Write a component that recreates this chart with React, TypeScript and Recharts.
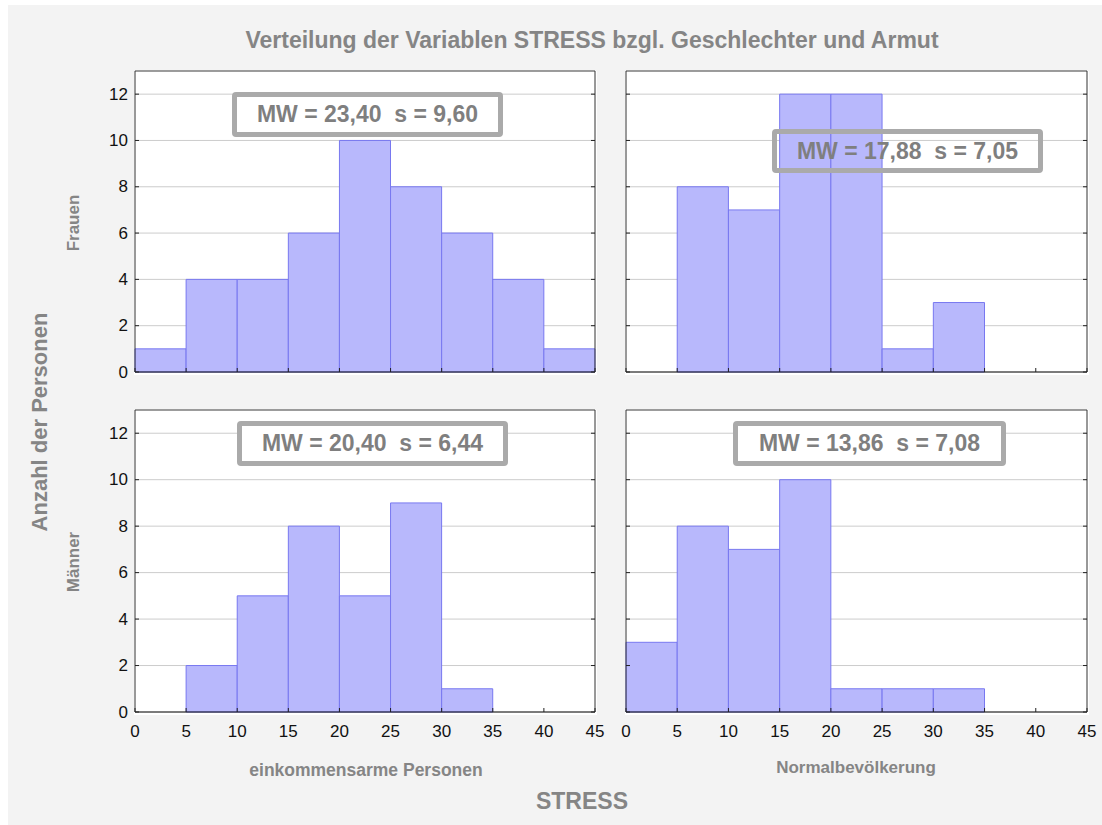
import { BarChart, Bar, XAxis, YAxis, CartesianGrid, ReferenceLine } from "recharts";

const FONT = '"Liberation Sans", Arial, Helvetica, sans-serif';

// histogram bins of STRESS (width 5)
const binEdges = [0, 5, 10, 15, 20, 25, 30, 35, 40, 45];
const binMids = [2.5, 7.5, 12.5, 17.5, 22.5, 27.5, 32.5, 37.5, 42.5];
const yTicks = [0, 2, 4, 6, 8, 10, 12];

const frauenArm = [1, 4, 4, 6, 10, 8, 6, 4, 1];
const frauenNormal = [0, 8, 7, 12, 12, 1, 3, 0, 0];
const maennerArm = [0, 2, 5, 8, 5, 9, 1, 0, 0];
const maennerNormal = [3, 8, 7, 10, 1, 1, 1, 0, 0];

const statLabels = [
  "MW = 23,40  s = 9,60",
  "MW = 17,88  s = 7,05",
  "MW = 20,40  s = 6,44",
  "MW = 13,86  s = 7,08",
];

const PAD_L = 60;
const PAD_T = 10;
const PAD_R = 10;
const PAD_B = 40;

type PanelProps = {
  left: number;
  top: number;
  width: number;
  height: number;
  values: number[];
  yLabels: boolean;
  xLabels: boolean;
};

function Panel({ left, top, width, height, values, yLabels, xLabels }: PanelProps) {
  const data = binMids.map((mid, i) => ({ mid, count: values[i] }));

  const xTick = (p: any) => {
    const { x, y, payload } = p;
    return (
      <g>
        <line x1={x} y1={y} x2={x} y2={y - 4} stroke="#222" />
        {xLabels && (
          <text
            x={x}
            y={y + 19}
            textAnchor="middle"
            dominantBaseline="central"
            fontFamily={FONT}
            fontSize={17}
            fill="#111"
          >
            {payload.value}
          </text>
        )}
      </g>
    );
  };

  const yTick = (p: any) => {
    const { x, y, payload } = p;
    return (
      <g>
        <line x1={x} y1={y} x2={x + 4} y2={y} stroke="#222" />
        <line x1={x + width - 4} y1={y} x2={x + width} y2={y} stroke="#222" />
        {yLabels && (
          <text
            x={x - 7}
            y={y}
            textAnchor="end"
            dominantBaseline="central"
            fontFamily={FONT}
            fontSize={17}
            fill="#111"
          >
            {payload.value}
          </text>
        )}
      </g>
    );
  };

  return (
    <>
      <div
        style={{
          position: "absolute",
          left: left - 1,
          top,
          width: width + 3,
          height: height + 3,
          background: "#ffffff",
        }}
      />
      <div style={{ position: "absolute", left: left - PAD_L, top: top - PAD_T }}>
        <BarChart
          width={width + PAD_L + PAD_R}
          height={height + PAD_T + PAD_B}
          data={data}
          margin={{ top: PAD_T, right: PAD_R, left: 0, bottom: 0 }}
        >
          <CartesianGrid vertical={false} stroke="#cccccc" />
          <XAxis
            dataKey="mid"
            type="number"
            domain={[0, 45]}
            ticks={binEdges}
            interval={0}
            height={PAD_B}
            tickLine={false}
            tickSize={0}
            tickMargin={0}
            axisLine={{ stroke: "#111" }}
            tick={xTick}
          />
          <YAxis
            type="number"
            domain={[0, 13]}
            ticks={yTicks}
            interval={0}
            width={PAD_L}
            tickLine={false}
            tickSize={0}
            tickMargin={0}
            axisLine={{ stroke: "#333" }}
            tick={yTick}
          />
          <Bar
            dataKey="count"
            fill="#b8b8fc"
            stroke="#7878f0"
            strokeWidth={1}
            barSize={width / 9 - 0.05}
            isAnimationActive={false}
          />
          <ReferenceLine y={13} stroke="#555" />
          <ReferenceLine x={45} stroke="#333" />
        </BarChart>
      </div>
    </>
  );
}

function StatBox({
  left,
  top,
  width,
  height,
  text,
  filled,
}: {
  left: number;
  top: number;
  width: number;
  height: number;
  text: string;
  filled: boolean;
}) {
  return (
    <div
      style={{
        position: "absolute",
        left,
        top,
        width,
        height,
        boxSizing: "border-box",
        border: "5px solid #aaaaaa",
        borderRadius: 4,
        background: filled ? "#ffffff" : "transparent",
        display: "flex",
        alignItems: "center",
        justifyContent: "center",
        fontFamily: FONT,
        fontWeight: "bold",
        fontSize: 23,
        color: "#7f7f7f",
        whiteSpace: "pre",
      }}
    >
      {text}
    </div>
  );
}

const label = (extra: React.CSSProperties): React.CSSProperties => ({
  position: "absolute",
  fontFamily: FONT,
  fontWeight: "bold",
  color: "#858585",
  whiteSpace: "nowrap",
  transform: "translate(-50%, -50%)",
  ...extra,
});

export default function App() {
  return (
    <div
      style={{
        position: "absolute",
        left: 0,
        top: 0,
        width: 1102,
        height: 825,
        background: "#ffffff",
        overflow: "hidden",
      }}
    >
      <div
        style={{
          position: "absolute",
          left: 8,
          top: 5,
          width: 1094,
          height: 820,
          background: "#f3f3f3",
        }}
      />

      <div style={label({ left: 592, top: 40, fontSize: 23 })}>
        Verteilung der Variablen STRESS bzgl. Geschlechter und Armut
      </div>

      <Panel left={135} top={71} width={460} height={301} values={frauenArm} yLabels xLabels={false} />
      <Panel left={626} top={71} width={461} height={301} values={frauenNormal} yLabels={false} xLabels={false} />
      <Panel left={135} top={410} width={460} height={302} values={maennerArm} yLabels xLabels />
      <Panel left={626} top={410} width={461} height={302} values={maennerNormal} yLabels={false} xLabels />

      <StatBox left={232} top={92} width={271} height={45} text={statLabels[0]} filled />
      <StatBox left={772} top={129} width={271} height={44} text={statLabels[1]} filled={false} />
      <StatBox left={237} top={421} width={271} height={45} text={statLabels[2]} filled />
      <StatBox left={733} top={421} width={273} height={45} text={statLabels[3]} filled />

      <div style={label({ left: 40, top: 422, fontSize: 22, transform: "translate(-50%, -50%) rotate(-90deg)" })}>
        Anzahl der Personen
      </div>
      <div style={label({ left: 74, top: 223, fontSize: 17, transform: "translate(-50%, -50%) rotate(-90deg)" })}>
        Frauen
      </div>
      <div style={label({ left: 74, top: 562, fontSize: 17, transform: "translate(-50%, -50%) rotate(-90deg)" })}>
        Männer
      </div>

      <div style={label({ left: 366, top: 770, fontSize: 17.5 })}>einkommensarme Personen</div>
      <div style={label({ left: 856, top: 768, fontSize: 17 })}>Normalbevölkerung</div>
      <div style={label({ left: 582, top: 801, fontSize: 23 })}>STRESS</div>
    </div>
  );
}
